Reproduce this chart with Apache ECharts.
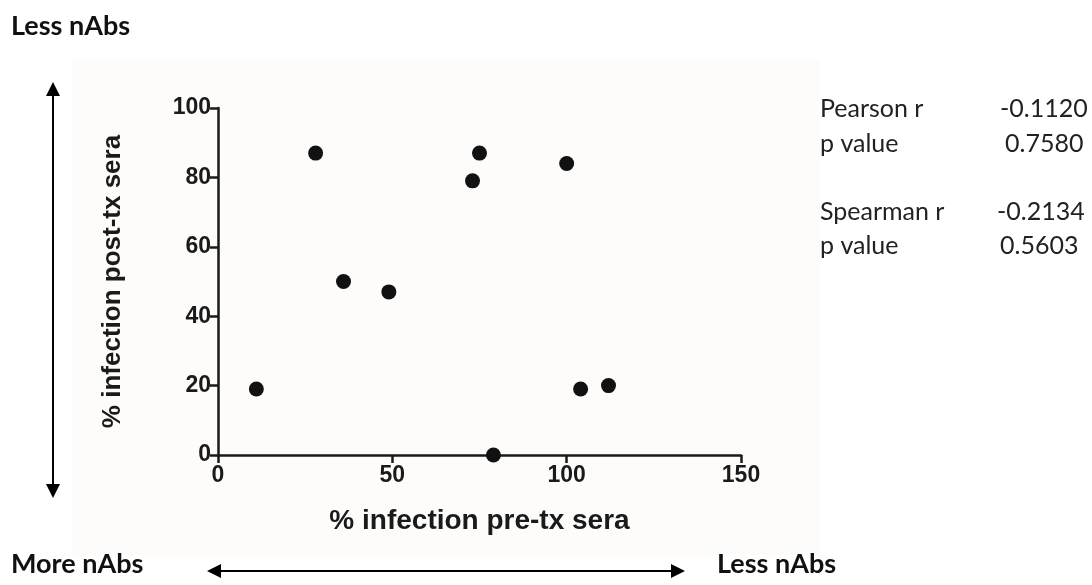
<!DOCTYPE html>
<html>
<head>
<meta charset="utf-8">
<script src="https://cdn.jsdelivr.net/npm/echarts@6/dist/echarts.min.js"></script>
<style>
html,body{margin:0;padding:0;background:#fff;}
#c{width:1092px;height:585px;}
</style>
</head>
<body>
<div id="c"></div>
<script>
// Data
const preTx  = [11, 28, 36, 49, 73, 75, 100, 104, 112, 79];
const postTx = [19, 87, 50, 47, 79, 87, 84, 19, 20, 0];
const xTicks = [0, 50, 100, 150];
const yTicks = [0, 20, 40, 60, 80, 100];
const statLabels = ['Pearson r', 'p value', 'Spearman r', 'p value'];
const statValues = ['-0.1120', '0.7580', '-0.2134', '0.5603'];

const points = preTx.map((x, i) => [x, postTx[i]]);
const AX = 'Liberation Sans, Arial, sans-serif';
const TX = 'Lato, Open Sans, sans-serif';

const chart = echarts.init(document.getElementById('c'), null, {renderer: 'canvas'});

function arrowHead(x, y, dir) {
  const s = 7, l = 14;
  let pts;
  if (dir === 'up') pts = [[x, y], [x - s, y + l], [x + s, y + l]];
  if (dir === 'down') pts = [[x, y], [x - s, y - l], [x + s, y - l]];
  if (dir === 'left') pts = [[x, y], [x + l, y - s], [x + l, y + s]];
  if (dir === 'right') pts = [[x, y], [x - l, y - s], [x - l, y + s]];
  return {type: 'polygon', shape: {points: pts}, style: {fill: '#000'}};
}

const statRowsY = [111, 146, 214, 248];
const statValX = [1000, 1005, 997, 1000];

const graphics = [
  {type: 'rect', z: -100, shape: {x: 72, y: 59, width: 748, height: 496}, style: {fill: '#fdfcfa'}, silent: true},
  {type: 'text', left: 11, top: 13, style: {text: 'Less nAbs', font: 'bold 27px ' + TX, fill: '#111'}},
  {type: 'text', left: 11, top: 551, style: {text: 'More nAbs', font: 'bold 27px ' + TX, fill: '#111'}},
  {type: 'text', left: 717, top: 551, style: {text: 'Less nAbs', font: 'bold 27px ' + TX, fill: '#111'}},
  {type: 'line', shape: {x1: 53, y1: 90, x2: 53, y2: 490}, style: {stroke: '#000', lineWidth: 2}},
  arrowHead(53, 82, 'up'),
  arrowHead(53, 498, 'down'),
  {type: 'line', shape: {x1: 214, y1: 571, x2: 678, y2: 571}, style: {stroke: '#000', lineWidth: 2}},
  arrowHead(207, 571, 'left'),
  arrowHead(685, 571, 'right')
];
statLabels.forEach((t, i) => {
  graphics.push({type: 'text', left: 820, top: statRowsY[i] - 15, style: {text: t, font: '25px ' + TX, fill: '#222'}});
  graphics.push({type: 'text', left: statValX[i], top: statRowsY[i] - 15, style: {text: statValues[i], font: '25px ' + TX, fill: '#222'}});
});

chart.setOption({
  animation: false,
  backgroundColor: '#fff',
  grid: {left: 218, right: 351, top: 108, bottom: 130, containLabel: false},
  xAxis: {
    type: 'value', min: xTicks[0], max: xTicks[xTicks.length - 1], interval: 50,
    name: '% infection pre-tx sera', nameLocation: 'middle', nameGap: 52,
    nameTextStyle: {fontFamily: AX, fontWeight: 'bold', fontSize: 28, color: '#1a1a1a'},
    axisLine: {show: true, onZero: false, lineStyle: {color: '#1a1a1a', width: 2.5}},
    axisTick: {show: true, length: 8, lineStyle: {color: '#1a1a1a', width: 2.5}},
    axisLabel: {fontFamily: AX, fontWeight: 'bold', fontSize: 23, color: '#1a1a1a', margin: 9},
    splitLine: {show: false}
  },
  yAxis: {
    type: 'value', min: yTicks[0], max: yTicks[yTicks.length - 1], interval: 20,
    name: '% infection post-tx sera', nameLocation: 'middle', nameGap: 92,
    nameTextStyle: {fontFamily: AX, fontWeight: 'bold', fontSize: 26, color: '#1a1a1a'},
    axisLine: {show: true, onZero: false, lineStyle: {color: '#1a1a1a', width: 2.5}},
    axisTick: {show: true, length: 8, lineStyle: {color: '#1a1a1a', width: 2.5}},
    axisLabel: {fontFamily: AX, fontWeight: 'bold', fontSize: 23, color: '#1a1a1a', margin: 7},
    splitLine: {show: false}
  },
  series: [{
    type: 'scatter', data: points, symbol: 'circle', symbolSize: 15,
    itemStyle: {color: '#111', opacity: 1}
  }],
  graphic: graphics
});
</script>
</body>
</html>
